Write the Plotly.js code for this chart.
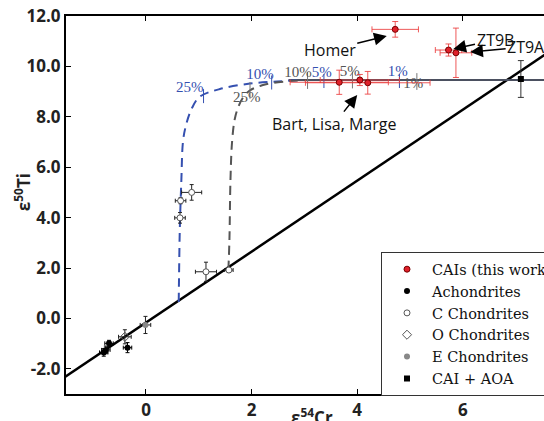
<!DOCTYPE html>
<html><head><meta charset="utf-8">
<script src="https://cdn.plot.ly/plotly-3.0.1.min.js"></script>
<style>html,body{margin:0;padding:0;overflow:hidden;background:#fff;width:544px;height:421px}#plot{width:574px;height:421px}</style>
</head><body><div id="plot"></div>
<script>
// Reference line (bulk solar system correlation)
const refLineX = [-1.6, 7.6];
const refLineY = [-2.42, 10.53];
// Mixing curves
const blueMixX = [0.62, 0.625, 0.64, 0.67, 0.70, 0.75, 0.86, 1.02, 1.40, 1.97, 2.48, 2.92];
const blueMixY = [0.65, 1.5, 3.5, 5.5, 7.0, 7.6, 8.3, 8.8, 9.1, 9.32, 9.40, 9.46];
const grayMixX = [1.56, 1.58, 1.60, 1.63, 1.68, 1.75, 1.85, 1.97, 2.2, 2.5, 2.8, 3.1];
const grayMixY = [1.92, 3.1, 5.5, 7.0, 7.9, 8.4, 8.8, 9.05, 9.25, 9.37, 9.43, 9.46];
const flatLineX = [2.7, 7.6];
const flatLineY = [9.46, 9.46];
// Tick marks on mixing curves
const blueTickX = [1.09, 2.38, 3.37, 4.80];
const blueTickY = [8.82, 9.36, 9.42, 9.42];
const grayTickX = [1.97, 3.06, 3.91, 5.13];
const grayTickY = [9.05, 9.44, 9.46, 9.40];
// Mixing labels
const blueLabels = ["25%", "10%", "5%", "1%"];
const blueLabelX = [0.83, 2.16, 3.33, 4.77];
const blueLabelY = [9.14, 9.66, 9.74, 9.78];
const grayLabels = ["25%", "10%", "5%", "1%"];
const grayLabelX = [1.91, 2.88, 3.86, 5.06];
const grayLabelY = [8.72, 9.74, 9.78, 9.30];
// CAIs (this work): Homer, ZT9B, ZT9A, Bart, Lisa, Marge
const caiX = [4.72, 5.73, 5.87, 3.66, 4.05, 4.20];
const caiY = [11.47, 10.65, 10.54, 9.37, 9.46, 9.35];
const caiEx = [0.44, 0.25, 0.30, 0.93, 0.75, 1.18];
const caiEy = [0.31, 0.24, 0.98, 0.48, 0.22, 0.45];
// Achondrites
const achX = [-0.80, -0.76, -0.70, -0.35];
const achY = [-1.35, -1.25, -0.99, -1.16];
const achEx = [0.08, 0.08, 0.08, 0.08];
const achEy = [0.15, 0.15, 0.12, 0.2];
// C Chondrites
const ccX = [0.655, 0.644, 0.865, 1.136, 1.57];
const ccY = [4.67, 3.99, 5.00, 1.85, 1.92];
const ccEx = [0.1, 0.1, 0.19, 0.2, 0.08];
const ccEy = [0.12, 0.21, 0.31, 0.38, 0.1];
// O Chondrites
const ocX = [-0.40];
const ocY = [-0.73];
const ocEx = [0.12];
const ocEy = [0.28];
// E Chondrites
const ecX = [-0.01];
const ecY = [-0.26];
const ecEx = [0.1];
const ecEy = [0.34];
// CAI + AOA
const aoaX = [7.10];
const aoaY = [9.50];
const aoaEy = [0.73];
// Tick labels
const yTickVals = [-2, 0, 2, 4, 6, 8, 10, 12];
const yTickText = ["-2.0", "0.0", "2.0", "4.0", "6.0", "8.0", "10.0", "12.0"];
const xTickVals = [0, 2, 4, 6];
const xTickText = ["0", "2", "4", "6"];

const serif = "Liberation Serif, serif";
const legendSerif = "DejaVu Serif, serif";
const sans = "Open Sans, sans-serif";
const eb = (arr, col, w) => ({type:'data', array:arr, visible:true, color:col, thickness:1, width:w});

const traces = [
  {x: refLineX, y: refLineY, mode:'lines', line:{color:'#000', width:2.5}, showlegend:false},
  {x: flatLineX, y: flatLineY, mode:'lines', line:{color:'#4b5060', width:2}, showlegend:false},
  {x: blueMixX, y: blueMixY, mode:'lines', line:{color:'#3550b0', width:2, dash:'9px,6px', shape:'spline'}, showlegend:false},
  {x: grayMixX, y: grayMixY, mode:'lines', line:{color:'#555', width:2, dash:'9px,6px', shape:'spline'}, showlegend:false},
  {x: blueTickX, y: blueTickY, mode:'markers', marker:{symbol:'line-ns', size:10, line:{color:'#3550b0', width:1}}, showlegend:false},
  {x: grayTickX, y: grayTickY, mode:'markers', marker:{symbol:'line-ns', size:12, line:{color:'#777', width:1}}, showlegend:false},
  {x: blueLabelX, y: blueLabelY, mode:'text', text: blueLabels, textfont:{family:serif, size:15, color:'#3550b0'}, showlegend:false},
  {x: grayLabelX, y: grayLabelY, mode:'text', text: grayLabels, textfont:{family:serif, size:15, color:'#555'}, showlegend:false},
  {x: caiX, y: caiY, mode:'markers', name:'CAIs (this work)',
   error_x: eb(caiEx, 'rgba(235,60,60,0.85)', 3), error_y: eb(caiEy, 'rgba(235,60,60,0.85)', 3),
   marker:{color:'#e0202a', size:6, line:{color:'#700', width:1}}},
  {x: achX, y: achY, mode:'markers', name:'Achondrites',
   error_x: eb(achEx, '#000', 2), error_y: eb(achEy, '#000', 2),
   marker:{color:'#000', size:6}},
  {x: ccX, y: ccY, mode:'markers', name:'C Chondrites',
   error_x: eb(ccEx, '#222', 2), error_y: eb(ccEy, '#222', 2),
   marker:{color:'#fff', size:6, line:{color:'#555', width:1}}},
  {x: ocX, y: ocY, mode:'markers', name:'O Chondrites',
   error_x: eb(ocEx, '#222', 2), error_y: eb(ocEy, '#222', 2),
   marker:{symbol:'diamond-open', color:'#555', size:7, line:{width:1}}},
  {x: ecX, y: ecY, mode:'markers', name:'E Chondrites',
   error_x: eb(ecEx, '#222', 2), error_y: eb(ecEy, '#222', 2),
   marker:{color:'#888', size:6}},
  {x: aoaX, y: aoaY, mode:'markers', name:'CAI + AOA',
   error_y: eb(aoaEy, '#333', 3),
   marker:{symbol:'square', color:'#000', size:6}}
];

const arrowAnn = (hx, hy, tx, ty, txt) => ({
  x: hx, y: hy, ax: tx, ay: ty, axref:'x', ayref:'y', xref:'x', yref:'y',
  text: txt, showarrow:true, arrowhead:2, arrowsize:1.7, arrowwidth:1.5, arrowcolor:'#000',
  font:{family:sans, size:16, color:'#111'}
});

const layout = {
  width: 574, height: 421,
  margin: {l:66, r:30, t:16, b:27},
  paper_bgcolor:'#fff', plot_bgcolor:'#fff',
  showlegend: true,
  legend: {x: 0.659, y: 0.375, xanchor:'left', yanchor:'top', bgcolor:'#fff',
           bordercolor:'#333', borderwidth:1, font:{family:legendSerif, size:14.5, color:'#111'},
           itemwidth: 40, tracegroupgap: 0},
  xaxis: {range:[-1.515, 7.538], tickvals: xTickVals, ticktext: xTickText,
          ticks:'inside', ticklen:5, tickcolor:'#000', showline:true, linewidth:2, linecolor:'#000',
          mirror:'ticks', showgrid:false, zeroline:false,
          tickfont:{family:sans, size:17, color:'#222', weight:'bold'}},
  yaxis: {range:[-3, 12], tickvals: yTickVals, ticktext: yTickText,
          ticks:'inside', ticklen:5, tickcolor:'#000', showline:true, linewidth:2, linecolor:'#000',
          mirror:false, showgrid:false, zeroline:false,
          tickfont:{family:sans, size:17, color:'#222', weight:'bold'}},
  annotations: [
    arrowAnn(4.56, 11.21, 3.48, 10.65, 'Homer'),
    arrowAnn(5.82, 10.69, 6.61, 11.05, 'ZT9B'),
    arrowAnn(6.14, 10.57, 7.20, 10.77, 'ZT9A'),
    arrowAnn(4.0, 8.87, 3.56, 7.71, 'Bart, Lisa, Marge'),
    {xref:'paper', yref:'paper', x:0.515, y:-0.022, xanchor:'center', yanchor:'top', showarrow:false,
     text:'<b>ε<sup>54</sup>Cr</b>', font:{family:sans, size:17, color:'#222'}},
    {xref:'paper', yref:'paper', x:-0.092, y:0.534, xanchor:'center', yanchor:'middle', showarrow:false,
     textangle:-90, text:'<b>ε<sup>50</sup>Ti</b>', font:{family:sans, size:17, color:'#222'}}
  ]
};

Plotly.newPlot('plot', traces, layout, {staticPlot:true, displayModeBar:false});
</script></body></html>
